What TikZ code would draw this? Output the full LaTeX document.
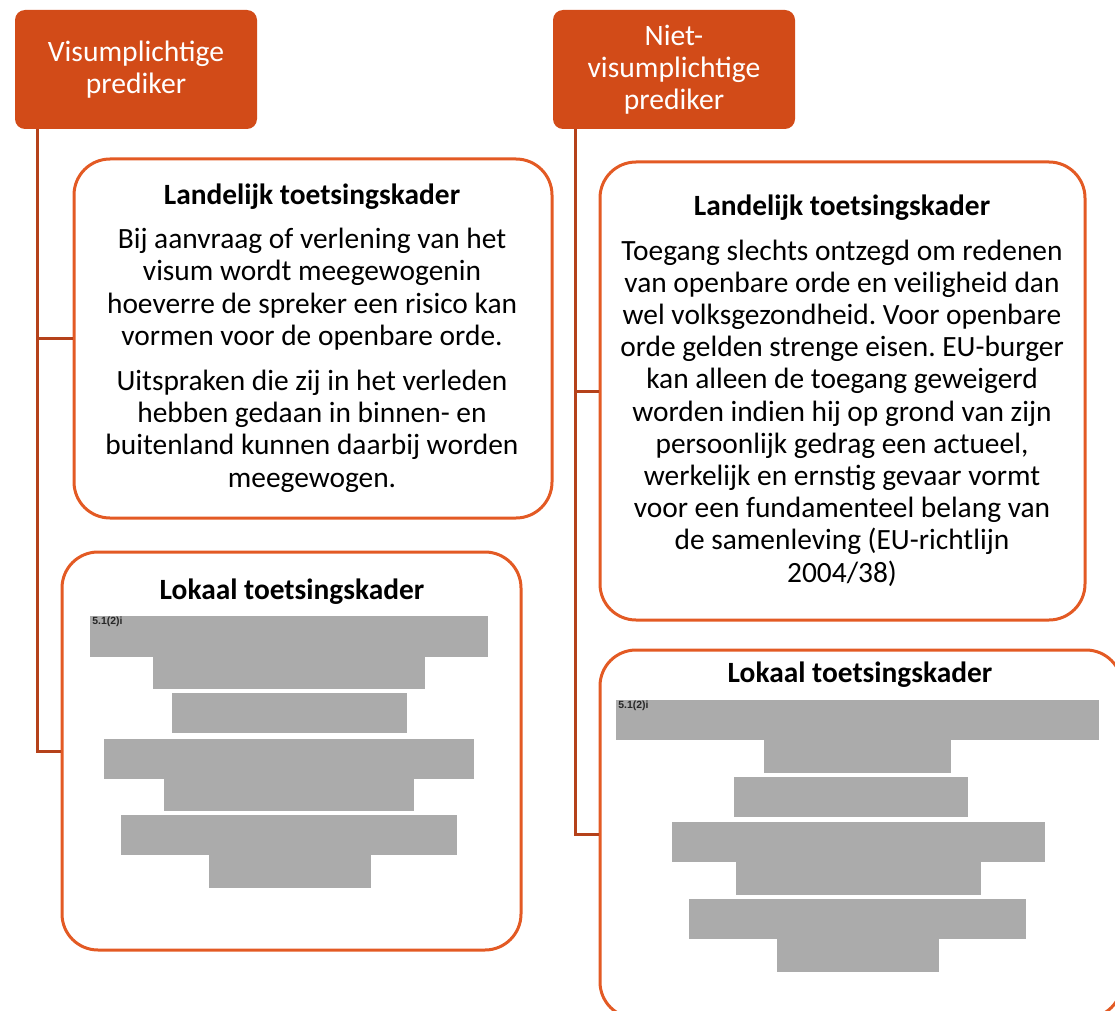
\documentclass[tikz,border=0pt]{standalone}
\usepackage{fontspec}
\setmainfont{Carlito}
\newfontfamily\codefont{Liberation Sans}
\frenchspacing
\definecolor{hdrfill}{HTML}{D24B18}
\definecolor{boxline}{HTML}{E35A24}
\definecolor{linkline}{HTML}{B5411A}
\definecolor{redactgray}{HTML}{ABABAB}
\tikzset{
	hdr/.style={fill=hdrfill, text=white, rounded corners=5pt, inner sep=0pt,
		minimum width=121pt, minimum height=59.5pt, align=center,
		font=\fontsize{14.8}{16}\selectfont},
	kader/.style={draw=boxline, line width=1.5pt, fill=white, rounded corners=18pt, inner sep=0pt},
	link/.style={draw=linkline, line width=1.5pt},
	redact/.style={fill=redactgray},
	titel/.style={font=\bfseries\fontsize{14.7}{16}\selectfont, anchor=base, inner sep=0pt},
	tekst/.style={font=\fontsize{14.7}{16.1}\selectfont, align=center, anchor=base, inner sep=0pt},
	code/.style={font=\codefont\bfseries\fontsize{5.2}{6}\selectfont, anchor=north west, inner sep=0.5pt, text=black!85}
}
\begin{document}
\begin{tikzpicture}[x=0.5pt,y=-0.5pt]
		\useasboundingbox (0,0) rectangle (1115,1011);
		\clip (0,0) rectangle (1115,1011);
		% kopjes
		\node[hdr] (hdrL) at (136,69.5) {Visumplichtige\\prediker};
		\node[hdr] (hdrR) at (674,69.5) {Niet-\\visumplichtige\\prediker};
		% kaders
		\node[kader, minimum width=239pt, minimum height=179.5pt] (landL) at (313,338.5) {};
		\node[kader, minimum width=229.5pt, minimum height=199pt] (lokL) at (291.5,751) {};
		\node[kader, minimum width=242.5pt, minimum height=229pt] (landR) at (842.5,391) {};
		\node[kader, minimum width=261pt, minimum height=184pt] (lokR) at (861,834) {};
		% verbindingen
		\draw[link] ([xshift=11.5pt]hdrL.south west) |- (landL.west);
		\draw[link] ([xshift=11.5pt]hdrL.south west) |- (lokL.west);
		\draw[link] ([xshift=11.5pt]hdrR.south west) |- (landR.west);
		\draw[link] ([xshift=11.5pt]hdrR.south west) |- (lokR.west);
		% teksten links (base = laatste regel)
		\node[titel] (titLandL) at (312,205) {Landelijk toetsingskader};
		\node[tekst] (txtLandL) at (312,487) {Bij aanvraag of verlening van het\\
			visum wordt meegewogenin\\
			hoeverre de spreker een risico kan\\
			vormen voor de openbare orde.\\[6.5pt]
			Uitspraken die zij in het verleden\\
			hebben gedaan in binnen- en\\
			buitenland kunnen daarbij worden\\
			meegewogen.};
		\node[titel] (titLokL) at (292,599) {Lokaal toetsingskader};
		% teksten rechts
		\node[titel] (titLandR) at (842,216) {Landelijk toetsingskader};
		\node[tekst] (txtLandR) at (842,582) {Toegang slechts ontzegd om redenen\\
			van openbare orde en veiligheid dan\\
			wel volksgezondheid. Voor openbare\\
			orde gelden strenge eisen. EU-burger\\
			kan alleen de toegang geweigerd\\
			worden indien hij op grond van zijn\\
			persoonlijk gedrag een actueel,\\
			werkelijk en ernstig gevaar vormt\\
			voor een fundamenteel belang van\\
			de samenleving (EU-richtlijn\\
			2004/38)};
		\node[titel] (titLokR) at (860,682) {Lokaal toetsingskader};
		% weggelakte stukken links
		\fill[redact] (90,616) rectangle (488,657);
		\fill[redact] (153,657) rectangle (425,689);
		\fill[redact] (172,693) rectangle (407,733);
		\fill[redact] (104,739) rectangle (474,779);
		\fill[redact] (164,779) rectangle (414,811);
		\fill[redact] (121,815) rectangle (457,855);
		\fill[redact] (209,855) rectangle (371,888);
		\node[code] (codeL) at (91,616) {5.1(2)i};
		% weggelakte stukken rechts
		\fill[redact] (616,700) rectangle (1099,740);
		\fill[redact] (764,740) rectangle (951,773);
		\fill[redact] (734,777) rectangle (968,817);
		\fill[redact] (672,822) rectangle (1045,862);
		\fill[redact] (736,862) rectangle (981,895);
		\fill[redact] (689,899) rectangle (1026,939);
		\fill[redact] (777,939) rectangle (939,972);
		\node[code] (codeR) at (617,700) {5.1(2)i};
\end{tikzpicture}
\end{document}
